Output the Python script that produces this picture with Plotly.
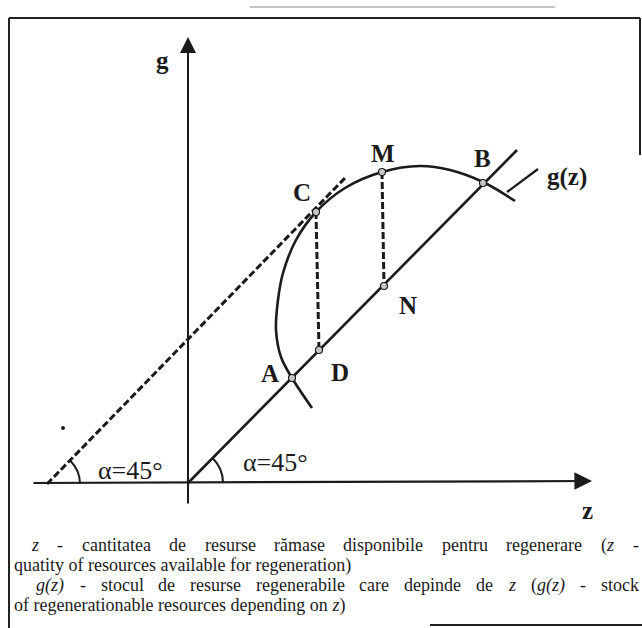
import plotly.graph_objects as go
import re

# Diagram coordinates: origin of the z/g axes at (0, 0), 1 unit = 1 pixel
# g(z) curve (z, g)
curve_z = [124, 104, 93, 88, 90, 95, 108, 128, 157, 194, 232, 262, 295, 327]
curve_g = [75, 105, 126, 153, 183, 210, 243, 271, 295, 311, 317, 313, 301, 282]

# named points on the diagram
point_names = ["A", "C", "D", "M", "N", "B"]
point_z = [104, 128, 131, 194, 196, 295]
point_g = [105, 271, 133, 311, 197, 300]

# 45 degree line from the origin and the dashed tangent through C
ray_z = [0, 329]
ray_g = [0, 333]
tangent_z = [-141, 157]
tangent_g = [-1, 305]

# dashed verticals C-D and M-N
drop_cd_z = [128, 131]
drop_cd_g = [271, 133]
drop_mn_z = [194, 196]
drop_mn_g = [311, 197]

# label text and where it sits
label_text = ["A", "C", "D", "M", "N", "B", "g(z)", "g", "z"]
label_z = [82, 114, 152, 195, 220, 294, 379, -26, 399]
label_g = [110, 291, 111, 330, 178, 325, 306, 423, -27]

caption_lines = [
    "<i>z</i> - cantitatea de resurse rămase disponibile pentru regenerare (<i>z</i> -",
    "quatity of resources available for regeneration)",
    "<i>g(z)</i> - stocul de resurse regenerabile care depinde de <i>z</i> (<i>g(z)</i> - stock",
    "of regenerationable resources depending on <i>z</i>)",
]
caption_x = [30, 12, 35, 12]
caption_y = [545, 565, 585, 605]
caption_justified = [True, False, True, False]

ink = "#1b1b1b"
serif = "Liberation Serif"
cap_size = 18

# Times advance widths (1/1000 em) for justifying caption lines
tw = dict(zip("abcdefghijklmnopqrstuvwxyză-() ",
              [444, 500, 444, 500, 444, 333, 500, 500, 278, 278, 500, 278, 778, 500, 500,
               500, 500, 333, 389, 278, 500, 500, 722, 500, 500, 444, 444, 333, 333, 333, 250]))


def word_width(w, size):
    plain = re.sub("<[^>]+>", "", w)
    return sum(tw.get(ch, 500) for ch in plain) * size / 1000.0


fig = go.Figure()

# g(z) curve
fig.add_trace(go.Scatter(x=curve_z, y=curve_g, mode="lines", line_shape="spline",
                         line=dict(color=ink, width=2.6), hoverinfo="skip"))
# 45 degree line
fig.add_trace(go.Scatter(x=ray_z, y=ray_g, mode="lines",
                         line=dict(color=ink, width=2.6), hoverinfo="skip"))
# tangent
fig.add_trace(go.Scatter(x=tangent_z, y=tangent_g, mode="lines",
                         line=dict(color=ink, width=3, dash="7px,3px"), hoverinfo="skip"))
# verticals
for zz, gg in [(drop_cd_z, drop_cd_g), (drop_mn_z, drop_mn_g)]:
    fig.add_trace(go.Scatter(x=zz, y=gg, mode="lines",
                             line=dict(color=ink, width=3, dash="7px,3px"), hoverinfo="skip"))
# pointer from curve to the g(z) label
fig.add_trace(go.Scatter(x=[319, 350], y=[291, 314], mode="lines",
                         line=dict(color=ink, width=2.2), hoverinfo="skip"))
# points
fig.add_trace(go.Scatter(x=point_z, y=point_g, mode="markers",
                         marker=dict(size=7, color="#c8c8c8", line=dict(color=ink, width=1.2)),
                         hoverinfo="skip"))
# stray dot
fig.add_trace(go.Scatter(x=[-125], y=[55], mode="markers",
                         marker=dict(size=4, color=ink), hoverinfo="skip"))

# axes with arrows
fig.add_annotation(x=0, y=446, ax=0, ay=-22, xref="x", yref="y", axref="x", ayref="y",
                   showarrow=True, arrowhead=2, arrowsize=1.6, arrowwidth=2, arrowcolor=ink, text="")
fig.add_annotation(x=404, y=2, ax=-156, ay=0, xref="x", yref="y", axref="x", ayref="y",
                   showarrow=True, arrowhead=2, arrowsize=1.6, arrowwidth=2.2, arrowcolor=ink, text="")

# angle arcs
fig.add_shape(type="path", path="M -108 -1 Q -108 12.7 -117.7 22.3",
              line=dict(color=ink, width=2))
fig.add_shape(type="path", path="M 35 0 Q 35 14.5 24.7 24.7",
              line=dict(color=ink, width=2))

# frame
frame = dict(color="#222222", width=2)
fig.add_shape(type="line", x0=-179, y0=465, x1=-179, y1=-145, line=frame)
fig.add_shape(type="line", x0=-179, y0=465, x1=452, y1=465, line=frame)
fig.add_shape(type="line", x0=452, y0=465, x1=452, y1=328, line=frame)
fig.add_shape(type="line", x0=242, y0=-142, x1=454, y1=-142, line=frame)
fig.add_shape(type="line", x0=62, y0=476, x1=367, y1=476, line=dict(color="#888888", width=1))

# labels
for t, zz, gg in zip(label_text, label_z, label_g):
    fig.add_annotation(x=zz, y=gg, text="<b>%s</b>" % t, showarrow=False,
                       font=dict(family=serif, size=25, color=ink))

fig.add_annotation(x=-58, y=13, text="α=45°", showarrow=False,
                   font=dict(family=serif, size=26, color=ink))
fig.add_annotation(x=87, y=21, text="α=45°", showarrow=False,
                   font=dict(family=serif, size=26, color=ink))

# caption, first and third lines justified to the right edge
right_edge = 638
for t, cx, cy, just in zip(caption_lines, caption_x, caption_y, caption_justified):
    ypos = 1 - cy / 628
    if not just:
        fig.add_annotation(x=cx / 642, y=ypos, xref="paper", yref="paper",
                           xanchor="left", yanchor="middle", text=t, showarrow=False,
                           font=dict(family=serif, size=cap_size, color=ink))
        continue
    words = t.split(" ")
    widths = [word_width(w, cap_size) for w in words]
    gap = (right_edge - cx - sum(widths)) / (len(words) - 1)
    xpos = cx
    for w, wd in zip(words, widths):
        fig.add_annotation(x=xpos / 642, y=ypos, xref="paper", yref="paper",
                           xanchor="left", yanchor="middle", text=w, showarrow=False,
                           borderpad=0, font=dict(family=serif, size=cap_size, color=ink))
        xpos += wd + gap

fig.update_layout(
    width=642, height=628,
    margin=dict(l=0, r=0, t=0, b=0),
    plot_bgcolor="white", paper_bgcolor="white",
    showlegend=False,
    xaxis=dict(range=[-188, 454], visible=False),
    yaxis=dict(range=[-145, 483], visible=False),
)

fig.write_html("out.html", config={"displayModeBar": False},
               post_script="document.body.style.margin='0px';")
